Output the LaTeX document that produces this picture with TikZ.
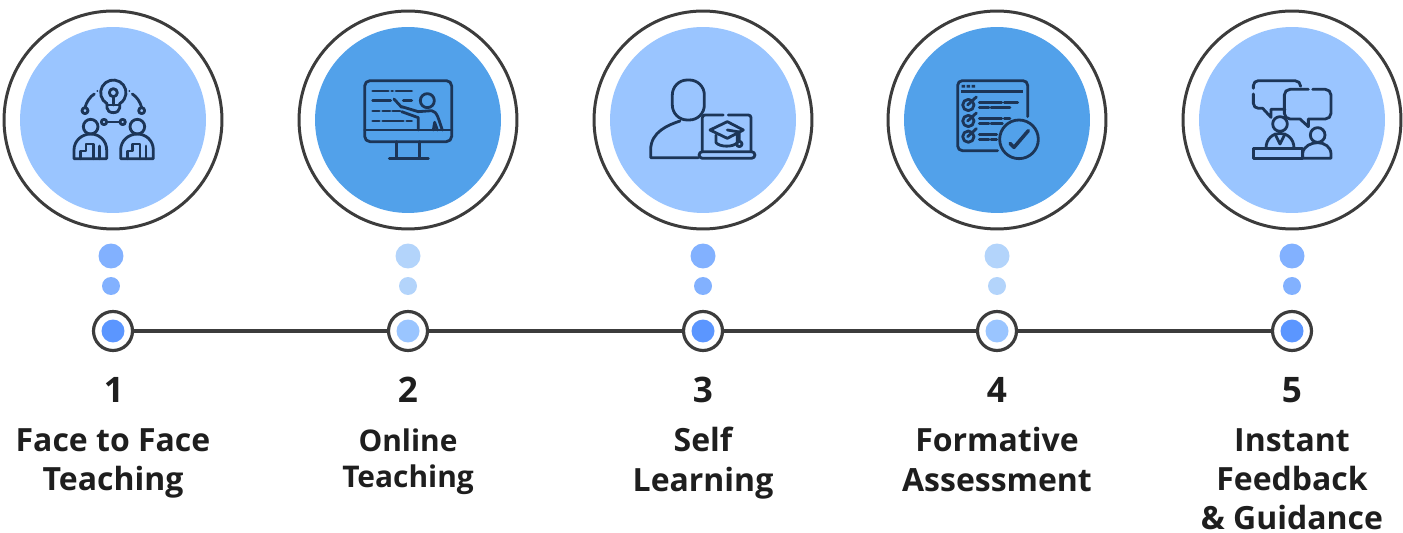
\documentclass[tikz,border=0pt]{standalone}
\usepackage{fontspec}
\setmainfont{Open Sans}
\definecolor{ringgray}{HTML}{3C3C3C}
\definecolor{discpale}{HTML}{9AC5FF}
\definecolor{discdeep}{HTML}{52A1EA}
\definecolor{dotdeep}{HTML}{82B1FF}
\definecolor{dotpale}{HTML}{B3D4FB}
\definecolor{coredeep}{HTML}{5B96FF}
\definecolor{iconink}{HTML}{1C3557}
\definecolor{labelink}{HTML}{1E1E1E}
\tikzset{
  ring/.style={circle,draw=ringgray,line width=1.7pt,fill=white,minimum size=4.36cm,inner sep=0pt,outer sep=0pt},
  disc/.style={circle,fill=#1,minimum size=3.72cm,inner sep=0pt,outer sep=0pt},
  bigdot/.style={circle,fill=#1,minimum size=0.5cm,inner sep=0pt,outer sep=0pt},
  smalldot/.style={circle,fill=#1,minimum size=0.36cm,inner sep=0pt,outer sep=0pt},
  stop/.style={circle,draw=ringgray,line width=1.8pt,fill=white,minimum size=0.78cm,inner sep=0pt,outer sep=0pt},
  core/.style={circle,fill=#1,minimum size=0.46cm,inner sep=0pt,outer sep=0pt},
  number/.style={font=\fontsize{20}{24}\selectfont\bfseries,text=labelink,inner sep=0pt},
  caption/.style={font=\fontsize{18.2}{22.4}\selectfont\bfseries,text=labelink,align=center,anchor=north,inner sep=0pt,execute at begin node={\rule{0pt}{16pt}}},
  smallcaption/.style={caption,font=\fontsize{17}{21}\selectfont\bfseries},
  icon/.style={draw=iconink,line width=1.6pt,line cap=round,line join=round},
  iconzoom/.style={x=0.02cm/3,y=-0.02cm/3}
}
\begin{document}
\begin{tikzpicture}[x=0.02cm,y=-0.02cm]
  \useasboundingbox (0,0) rectangle (1403,533);
  %% big rings
  \node[ring] (ring1) at (113,120) {};
  \node[ring] (ring2) at (408,120) {};
  \node[ring] (ring3) at (703,120) {};
  \node[ring] (ring4) at (997,120) {};
  \node[ring] (ring5) at (1292,120) {};
  \node[disc=discpale] (disc1) at (113,120) {};
  \node[disc=discdeep] (disc2) at (408,120) {};
  \node[disc=discpale] (disc3) at (703,120) {};
  \node[disc=discdeep] (disc4) at (997,120) {};
  \node[disc=discpale] (disc5) at (1292,120) {};
  %% dots under the rings
  \node[bigdot=dotdeep] (big1) at (111,256) {};
  \node[bigdot=dotpale] (big2) at (408,256) {};
  \node[bigdot=dotdeep] (big3) at (703,256) {};
  \node[bigdot=dotpale] (big4) at (997,256) {};
  \node[bigdot=dotdeep] (big5) at (1292,256) {};
  \node[smalldot=dotdeep] (small1) at (111,286) {};
  \node[smalldot=dotpale] (small2) at (408,286) {};
  \node[smalldot=dotdeep] (small3) at (703,286) {};
  \node[smalldot=dotpale] (small4) at (997,286) {};
  \node[smalldot=dotdeep] (small5) at (1292,286) {};
  %% timeline
  \node[stop] (stop1) at (113,331) {};
  \node[stop] (stop2) at (408,331) {};
  \node[stop] (stop3) at (703,331) {};
  \node[stop] (stop4) at (997,331) {};
  \node[stop] (stop5) at (1292,331) {};
  \draw[ringgray,line width=1.75pt] (stop1) -- (stop2);
  \draw[ringgray,line width=1.75pt] (stop2) -- (stop3);
  \draw[ringgray,line width=1.75pt] (stop3) -- (stop4);
  \draw[ringgray,line width=1.75pt] (stop4) -- (stop5);
  \node[core=coredeep] (core1) at (113,331) {};
  \node[core=discpale] (core2) at (408,331) {};
  \node[core=coredeep] (core3) at (703,331) {};
  \node[core=discpale] (core4) at (997,331) {};
  \node[core=coredeep] (core5) at (1292,331) {};
  %% numbers and captions
  \node[number] (num1) at (114,390) {1};
  \node[number] (num2) at (408,390) {2};
  \node[number] (num3) at (703,390) {3};
  \node[number] (num4) at (997,390) {4};
  \node[number] (num5) at (1292,390) {5};
  \node[caption] (cap1) at (113,428) {Face to Face\\Teaching};
  \node[smallcaption] (cap2) at (408,428) {Online\\Teaching};
  \node[caption] (cap3) at (703,427) {Self\\Learning};
  \node[caption] (cap4) at (997,427) {Formative\\Assessment};
  \node[caption] (cap5) at (1292,428) {Instant\\Feedback\\\& Guidance};
  %% icon 1: two people and a bulb
  \begin{scope}[shift={(60,70)},iconzoom]
    \draw[icon] (141,101) arc (120:420:38);
    \draw[icon] (160,68) circle (12);
    \draw[icon] (160,80) -- (160,105);
    \draw[icon] (141,101) -- (141,114) arc (180:0:19 and 14) -- (179,101);
    \draw[icon] (141,105) -- (179,105);
    \draw[icon] (75,122) circle (9);
    \draw[icon] (245,122) circle (9);
    \draw[icon] (75,113) .. controls (79,96) and (90,80) .. (103,72);
    \draw[icon] (245,113) .. controls (241,96) and (230,80) .. (217,72);
    \fill[iconink] (112,63) circle (3) (208,63) circle (3);
    \draw[icon] (132,156) circle (8);
    \draw[icon] (188,156) circle (8);
    \draw[icon] (140,156) -- (180,156);
    \foreach \px in {0,140} {
      \begin{scope}[xshift=\px*0.02cm/3]
        \draw[icon] (92,170) circle (22);
        \draw[icon] (42,266) -- (42,240) .. controls (42,212) and (66,192) .. (92,192) .. controls (118,192) and (140,212) .. (140,240) -- (140,266) -- cycle;
        \draw[icon] (62,266) -- (62,243) -- (78,243) -- (78,222) -- (100,222) -- (100,266);
        \draw[icon] (118,228) -- (118,266);
      \end{scope}
    }
  \end{scope}
  %% icon 2: screen with a teacher
  \begin{scope}[shift={(350,70)},iconzoom]
    \draw[icon,rounded corners=3pt] (44,32) rectangle (305,215);
    \draw[icon] (44,180) -- (305,180);
    \draw[icon] (140,215) -- (140,265);
    \draw[icon] (208,215) -- (208,265);
    \draw[icon] (118,265) -- (235,265);
    \draw[icon] (68,63) -- (115,63) (125,63) -- (128,63) (138,63) -- (185,63);
    \draw[icon] (68,92) -- (122,92) (160,92) -- (185,92);
    \draw[icon] (68,123) -- (88,123) (98,123) -- (120,123) (128,123) -- (150,123);
    \draw[icon] (68,153) -- (88,153) (98,153) -- (160,153) (170,153) -- (185,153);
    \draw[icon] (232,92) circle (21);
    \draw[icon] (132,87) -- (155,112);
    \draw[icon] (155,110) -- (205,125) -- (245,122) .. controls (262,124) and (266,150) .. (277,180);
    \draw[icon] (155,125) -- (205,143) -- (205,180);
    \draw[icon] (250,180) -- (254,157) -- (262,180);
  \end{scope}
  %% icon 3: person with a laptop
  \begin{scope}[shift={(640,70)},iconzoom]
    \draw[icon,rounded corners=8.5pt] (97,30) rectangle (193,150);
    \draw[icon] (175,263) -- (32,263) -- (32,240) .. controls (32,185) and (85,165) .. (120,153);
    \draw[icon] (250,135) -- (195,135) arc (-90:-180:8) -- (187,245);
    \draw[icon] (265,135) -- (325,135) arc (-90:0:8) -- (333,245);
    \draw[icon,rounded corners=2pt] (177,245) rectangle (345,265);
    \draw[icon] (210,180) -- (262,155) -- (310,180) -- (262,205) -- cycle;
    \draw[icon] (228,195) -- (228,218) .. controls (240,232) and (280,232) .. (292,218) -- (292,195);
    \draw[icon] (262,180) -- (298,186) -- (298,214);
    \draw[icon] (298,222) circle (8);
  \end{scope}
  %% icon 4: checklist
  \begin{scope}[shift={(945,70)},iconzoom]
    \draw[icon] (248,140) -- (248,46) arc (0:-90:14) -- (52,32) arc (-90:-180:14) -- (38,228) arc (180:90:14) -- (158,242);
    \fill[iconink] (50,45) rectangle (60,53) (65,45) rectangle (75,53) (80,45) rectangle (90,53);
    \fill[iconink] (48,60) rectangle (235,69);
    \foreach \cy in {105,153,200} {
      \draw[icon] (70,\cy) circle (17);
      \draw[icon] (68,\cy) -- ++(26,-24);
    }
    \draw[icon] (103,97) -- (170,97) (178,97) -- (218,97);
    \draw[icon] (103,112) -- (132,112) (138,112) -- (195,112);
    \draw[icon] (103,145) -- (170,145) (178,145) -- (195,145);
    \draw[icon] (103,160) -- (132,160) (138,160) -- (172,160);
    \draw[icon] (103,193) -- (155,193);
    \draw[icon] (103,208) -- (132,208) (138,208) -- (155,208);
    \draw[icon] (222,208) circle (58);
    \draw[icon,line width=2pt] (195,220) -- (207,232) -- (250,182);
  \end{scope}
  %% icon 5: talk across a desk
  \begin{scope}[shift={(1240,70)},iconzoom]
    \draw[icon] (40,55) -- (40,47) arc (180:270:15) -- (165,32) arc (-90:0:17);
    \draw[icon] (40,72) -- (40,100) arc (180:90:15) -- (68,115) -- (93,142) -- (93,118) -- (135,118);
    \draw[icon] (205,58) -- (150,58) arc (-90:-180:17) -- (133,130) arc (180:90:17) -- (180,147) -- (205,170) -- (205,147) -- (256,147) arc (90:0:17) -- (273,75) arc (0:-90:17) -- (218,58);
    \draw[icon] (120,162) circle (22);
    \draw[icon] (78,235) .. controls (78,205) and (100,190) .. (120,190) .. controls (140,190) and (162,205) .. (162,235);
    \draw[icon] (105,192) -- (120,222) -- (135,192);
    \draw[icon] (40,235) rectangle (188,265);
    \draw[icon] (233,195) circle (22);
    \draw[icon] (188,265) -- (188,250) .. controls (190,228) and (215,218) .. (233,218) .. controls (252,218) and (273,230) .. (273,252) -- (273,265) -- (188,265);
  \end{scope}
\end{tikzpicture}
\end{document}
